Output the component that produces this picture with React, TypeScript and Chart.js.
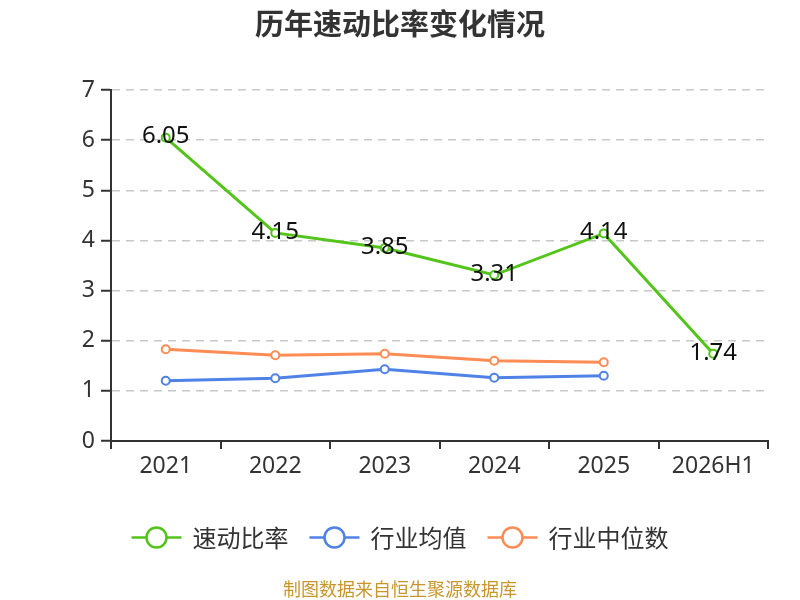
import { useEffect, useRef } from "react";
import { Chart, registerables, ChartConfiguration, Plugin } from "chart.js";

Chart.register(...registerables);

const categories = ["2021", "2022", "2023", "2024", "2025", "2026H1"];
const quickRatio = [6.05, 4.15, 3.85, 3.31, 4.14, 1.74];
const industryAvg = [1.2, 1.25, 1.43, 1.26, 1.3];
const industryMedian = [1.83, 1.71, 1.74, 1.6, 1.57];
const seriesNames = ["速动比率", "行业均值", "行业中位数"];
const seriesColors = ["#52C41A", "#4F82E6", "#FF8B55"];
const yTicks = [0, 1, 2, 3, 4, 5, 6, 7];

const FONT = '"Noto Sans", "Noto Sans CJK SC", sans-serif';
const CJK = '"Noto Sans CJK SC", "Noto Sans", sans-serif';

const decorPlugin: Plugin<"line"> = {
  id: "decor",
  afterDatasetsDraw(chart) {
    const ctx = chart.ctx;
    // value labels on the main series
    const meta = chart.getDatasetMeta(0);
    ctx.save();
    ctx.font = `24px ${FONT}`;
    ctx.fillStyle = "#111";
    ctx.textAlign = "center";
    ctx.textBaseline = "middle";
    meta.data.forEach((pt, i) => {
      ctx.fillText(quickRatio[i].toFixed(2), pt.x, pt.y - 1);
    });
    ctx.restore();
  },
  afterDraw(chart) {
    const ctx = chart.ctx;
    ctx.save();
    // title
    ctx.font = `bold 29px ${CJK}`;
    ctx.fillStyle = "#333";
    ctx.textAlign = "center";
    ctx.textBaseline = "middle";
    ctx.fillText("历年速动比率变化情况", 400, 24);

    // legend
    ctx.font = `24px ${CJK}`;
    const widths = seriesNames.map((n) => ctx.measureText(n).width);
    const itemW = widths.map((w) => 50 + 11 + w);
    const gap = 21;
    const total = itemW.reduce((a, b) => a + b, 0) + gap * (itemW.length - 1);
    let x = 400 - total / 2;
    const ly = 537.5;
    seriesNames.forEach((name, i) => {
      ctx.strokeStyle = seriesColors[i];
      ctx.lineWidth = 2.5;
      ctx.beginPath();
      ctx.moveTo(x, ly);
      ctx.lineTo(x + 50, ly);
      ctx.stroke();
      ctx.beginPath();
      ctx.arc(x + 25, ly, 10, 0, Math.PI * 2);
      ctx.fillStyle = "#fff";
      ctx.fill();
      ctx.stroke();
      ctx.fillStyle = "#333";
      ctx.textAlign = "left";
      ctx.fillText(name, x + 61, ly);
      x += itemW[i] + gap;
    });

    // source note
    ctx.font = `18px ${CJK}`;
    ctx.fillStyle = "#C8962A";
    ctx.textAlign = "center";
    ctx.fillText("制图数据来自恒生聚源数据库", 400, 589);
    ctx.restore();
  },
};

export default function App() {
  const canvasRef = useRef<HTMLCanvasElement>(null);
  const chartRef = useRef<Chart | null>(null);

  useEffect(() => {
    if (!canvasRef.current) return;
    const datasets = [quickRatio, industryAvg, industryMedian].map((d, i) => ({
      label: seriesNames[i],
      data: d,
      borderColor: seriesColors[i],
      backgroundColor: "#fff",
      pointBackgroundColor: "#fff",
      pointBorderColor: seriesColors[i],
      borderWidth: 3,
      pointRadius: 4,
      pointBorderWidth: 2,
      tension: 0,
    }));

    const config: ChartConfiguration<"line"> = {
      type: "line",
      data: { labels: categories, datasets },
      options: {
        animation: false,
        responsive: true,
        maintainAspectRatio: false,
        layout: { padding: { top: 90, right: 32, bottom: 0, left: 0 } },
        plugins: {
          legend: { display: false },
          title: { display: false },
          tooltip: { enabled: false },
        },
        scales: {
          x: {
            offset: true,
            grid: {
              offset: true,
              drawOnChartArea: false,
              tickLength: 8,
              tickColor: "#333",
              lineWidth: 2,
            },
            border: { color: "#333", width: 2 },
            ticks: { font: { size: 23, family: FONT }, color: "#333", padding: 4 },
            afterFit(scale) {
              scale.height = 159;
            },
          },
          y: {
            min: yTicks[0],
            max: yTicks[yTicks.length - 1],
            afterBuildTicks(scale) {
              scale.ticks = yTicks.map((v) => ({ value: v }));
            },
            grid: {
              color: "#c8c8c8",
              lineWidth: 1.5,
              tickColor: "#333",
              tickLength: 10,
              tickWidth: 2,
              tickBorderDash: [],
            },
            border: { color: "#333", width: 2, dash: [8, 6] },
            ticks: { font: { size: 23, family: FONT }, color: "#333", padding: 6 },
            afterFit(scale) {
              scale.width = 111;
            },
          },
        },
      },
      plugins: [decorPlugin],
    };

    chartRef.current = new Chart(canvasRef.current, config);
    return () => {
      chartRef.current?.destroy();
      chartRef.current = null;
    };
  }, []);

  return (
    <div style={{ position: "fixed", left: 0, top: 0, width: 800, height: 600, background: "#fff" }}>
      <canvas ref={canvasRef} />
    </div>
  );
}
